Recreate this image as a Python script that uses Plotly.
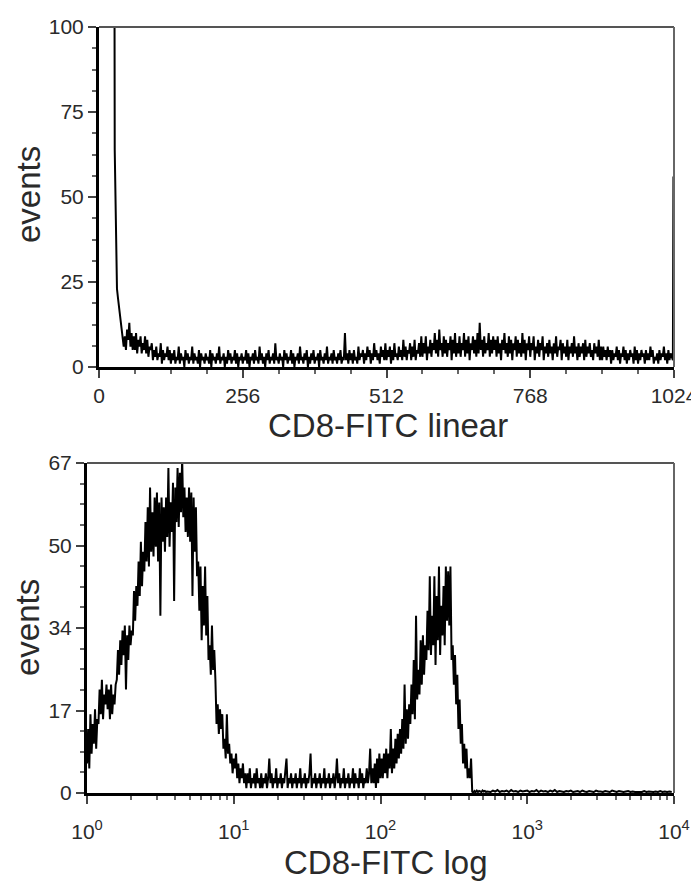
import plotly.graph_objects as go

# ---------------- data ----------------
# Top panel: linear channels 0..1022 (step 2) plus last channel 1023
lin_channels = list(range(0, 1024, 2)) + [1023]
lin_events = [
    300, 300, 300, 300, 300, 300, 300, 300, 300, 300, 300, 300, 300, 300,
    64, 40, 23, 20, 17, 14, 11, 8, 6, 9, 5, 11, 8, 13, 6, 10, 5, 9,
    5, 10, 4, 8, 6, 9, 4, 7, 5, 9, 4, 8, 3, 6, 5, 7, 2, 5, 3, 6, 2, 4, 3, 7, 1, 5, 2, 4, 3, 6, 2, 5,
    1, 4, 2, 5, 1, 3, 2, 6, 1, 4, 2, 3, 0, 5, 2, 4, 1, 3, 2, 6, 1, 4, 2, 3, 1, 5, 0, 4, 2, 3, 1, 4,
    2, 3, 1, 5, 0, 4, 2, 3, 1, 4, 2, 6, 1, 3, 2, 4, 0, 3, 1, 5, 2, 4, 1, 3, 2, 5, 1, 4, 0, 3, 2, 4,
    1, 3, 2, 5, 1, 4, 0, 3, 2, 4, 1, 5, 2, 3, 1, 6, 2, 4, 1, 3, 0, 4, 2, 5, 1, 3, 2, 4, 1, 7, 2, 3,
    1, 4, 2, 3, 0, 5, 2, 4, 1, 3, 2, 5, 1, 4, 0, 3, 2, 4, 1, 6, 2, 3, 1, 4, 2, 5, 0, 3, 1, 4, 2, 5,
    1, 3, 2, 4, 0, 5, 2, 3, 1, 4, 2, 6, 1, 3, 2, 4, 1, 5, 2, 3, 1, 4, 2, 5, 1, 3, 2, 10, 2, 4, 1, 5,
    2, 4, 1, 5, 2, 3, 1, 6, 2, 4, 3, 5, 1, 4, 2, 6, 3, 5, 1, 4, 2, 7, 3, 5, 2, 4, 1, 6, 3, 5, 2, 7,
    2, 5, 3, 6, 1, 5, 2, 7, 3, 4, 2, 6, 3, 5, 2, 8, 3, 6, 2, 5, 4, 7, 2, 6, 3, 8, 2, 5, 4, 7, 3, 9,
    3, 7, 4, 9, 2, 6, 4, 8, 3, 7, 5, 10, 4, 8, 3, 11, 5, 7, 3, 9, 4, 8, 3, 7, 5, 9, 2, 8, 4, 10, 3, 7,
    4, 9, 3, 7, 5, 10, 3, 8, 4, 9, 2, 7, 5, 9, 4, 8, 3, 10, 4, 13, 5, 8, 3, 9, 4, 7, 5, 10, 3, 8, 4, 9,
    5, 8, 3, 9, 4, 7, 2, 8, 5, 10, 4, 7, 3, 9, 4, 8, 2, 7, 5, 9, 3, 8, 4, 7, 3, 10, 4, 8, 2, 7, 5, 9,
    3, 7, 5, 9, 2, 6, 4, 8, 3, 7, 5, 9, 2, 6, 4, 7, 3, 8, 4, 6, 2, 7, 4, 9, 3, 6, 5, 8, 2, 7, 4, 6,
    3, 8, 2, 6, 4, 7, 3, 9, 4, 6, 2, 7, 3, 6, 4, 7, 2, 8, 3, 6, 4, 7, 3, 5, 2, 7, 4, 6, 3, 8, 2, 6,
    2, 6, 3, 5, 2, 6, 3, 5, 1, 5, 2, 4, 3, 6, 2, 5, 1, 4, 3, 6, 2, 5, 1, 4, 2, 5, 3, 4, 1, 6, 2, 5,
    1, 4, 2, 5, 3, 4, 1, 5, 2, 4, 2, 6, 3, 5, 1, 3, 2, 4, 1, 5, 2, 4, 3, 6, 2, 4, 1, 5, 2, 4, 3, 2,
    56,
]
lin_ticks = [0, 256, 512, 768, 1024]
lin_ytick_vals = [0, 25, 50, 75, 100]

# Bottom panel: log channels (1024 channels over 4 decades, 256 per decade)
log_channels = list(range(0, 700, 2)) + list(range(700, 1024, 4))
log_events = [
    6, 13, 5, 16, 8, 14, 10, 17, 9, 15, 14, 21, 16, 23, 15, 20, 18, 22, 17, 21,
    15, 22, 16, 20, 18, 22, 23, 29, 24, 31, 26, 33, 28, 34, 21, 32, 27, 34, 30, 33,
    32, 41, 35, 42, 38, 47, 40, 51, 42, 49, 45, 55, 47, 58, 46, 62, 49, 57, 48, 60,
    50, 61, 47, 59, 36, 60, 51, 58, 49, 60, 52, 66, 50, 59, 53, 63, 39, 62, 55, 66,
    54, 65, 57, 68, 56, 62, 53, 60, 52, 62, 51, 61, 40, 60, 49, 58, 44, 47, 37, 46,
    31, 42, 34, 46, 32, 40, 27, 30, 24, 34, 25, 29, 23, 14, 18, 12, 17, 13, 16, 9,
    11, 7, 16, 8, 10, 6, 8, 4, 7, 5, 8, 3, 6, 2, 5, 3, 6, 2, 4, 1,
    4, 2, 5, 1, 3, 2, 4, 1, 5, 2, 3, 1, 4, 1, 3, 2, 4, 1, 3, 7,
    2, 4, 1, 3, 2, 5, 1, 3, 2, 4, 1, 3, 2, 4, 7, 1, 3, 2, 4, 1,
    3, 2, 4, 1, 3, 2, 5, 1, 3, 2, 4, 1, 3, 2, 4, 8, 1, 3, 2, 4,
    1, 3, 2, 4, 1, 3, 2, 5, 1, 3, 2, 4, 1, 3, 2, 4, 1, 3, 7, 2,
    4, 1, 3, 2, 5, 1, 3, 2, 4, 1, 3, 2, 5, 1, 4, 2, 3, 1, 5, 2,
    4, 1, 3, 2, 5, 2, 4, 9, 2, 5, 2, 6, 1, 7, 2, 8, 3, 7, 3, 8,
    4, 9, 3, 8, 5, 13, 4, 9, 5, 11, 6, 12, 7, 13, 8, 15, 9, 22, 10, 17,
    11, 18, 14, 22, 16, 27, 15, 36, 19, 25, 20, 31, 22, 32, 24, 30, 27, 37, 29, 44,
    28, 36, 30, 44, 26, 40, 31, 46, 28, 38, 32, 42, 30, 46, 35, 45, 34, 46, 27, 30,
    22, 28, 18, 24, 13, 19, 10, 14, 6, 10, 5, 9, 3, 5, 3, 7, 0.3, 0, 0.4, 0.2,
    0.5, 0.2, 0.4, 0.3, 0.2, 0.5, 0.3, 0.4, 0.2, 0.3,
    0.3,
    0.2, 0.5, 0.3, 0.6, 0.2, 0.4, 0.3, 0.5, 0.2, 0.6, 0.3, 0.4, 0.2, 0.5, 0.3, 0.4,
    0.5, 0.2, 0.4, 0.3, 0.6, 0.2, 0.5, 0.3, 0.4, 0.2, 0.5, 0.3, 0.6, 0.2, 0.4, 0.3,
    0.2, 0.4, 0.3, 0.5, 0.2, 0.3, 0.4, 0.2, 0.5, 0.3, 0.2, 0.4, 0.3, 0.2, 0.5, 0.3,
    0.3, 0.2, 0.4, 0.3, 0.2, 0.5, 0.3, 0.2, 0.4, 0.3, 0.2, 0.3, 0.4, 0.2, 0.3, 0.2,
    0.2, 0.3, 0.2, 0.4, 0.2, 0.3, 0.2, 0.2, 0.3, 0.2, 0.4, 0.2, 0.3, 0.2, 0.3, 0.2,
]
assert len(lin_channels) == len(lin_events), (len(lin_channels), len(lin_events))
assert len(log_channels) == len(log_events), (len(log_channels), len(log_events))

log_tick_vals = [1, 10, 100, 1000, 10000]
log_tick_text = ["10<sup>0</sup>", "10<sup>1</sup>", "10<sup>2</sup>", "10<sup>3</sup>", "10<sup>4</sup>"]
log_ytick_vals = [0, 16.75, 33.5, 50.25, 67]
log_ytick_text = ["0", "17", "34", "50", "67"]

x_title_top = "CD8-FITC linear"
x_title_bottom = "CD8-FITC log"
y_title = "events"

# ---------------- figure ----------------
# The page body has an 8px margin, so the figure is sized to fill the
# 699x881 window from (8, 8); positions below are given in window pixels.
OFF = 8
W, H = 699 - OFF, 881 - OFF
FONT = "Liberation Sans, Arial, sans-serif"
TXT = "#2a2a2a"

# channel -> fluorescence value on the log scale (256 channels per decade)
log_x = [10 ** (c / 256) for c in log_channels]

fig = go.Figure()
fig.add_trace(go.Scatter(x=lin_channels, y=lin_events, mode="lines",
                         line=dict(color="black", width=2),
                         xaxis="x", yaxis="y", showlegend=False, hoverinfo="skip"))
fig.add_trace(go.Scatter(x=log_x, y=log_events, mode="lines",
                         line=dict(color="black", width=2),
                         xaxis="x2", yaxis="y2", showlegend=False, hoverinfo="skip"))

def px_x(p):
    return (p - OFF) / W

def px_y(p):
    return (H - (p - OFF)) / H

tickfont = dict(family=FONT, size=21, color=TXT)
common = dict(showgrid=False, zeroline=False, showline=True, linecolor="black",
              linewidth=3, ticks="outside", ticklen=8, tickwidth=1.5,
              tickcolor="#444", tickfont=tickfont, automargin=False)

minor_log = [m * 10 ** d for d in range(4) for m in range(2, 10)]

fig.update_layout(
    width=W, height=H,
    margin=dict(l=0, r=0, t=0, b=0),
    paper_bgcolor="white", plot_bgcolor="white",
    xaxis=dict(domain=[px_x(99), px_x(674)], anchor="y", range=[0, 1024],
               tickmode="array", tickvals=lin_ticks,
               minor=dict(ticks="outside", ticklen=4, dtick=64, tick0=0, tickcolor="#666"),
               **common),
    yaxis=dict(domain=[px_y(367), px_y(27)], anchor="x", range=[0, 100],
               tickmode="array", tickvals=lin_ytick_vals,
               minor=dict(ticks="outside", ticklen=4, dtick=6.25, tick0=0, tickcolor="#666"),
               **common),
    xaxis2=dict(domain=[px_x(87), px_x(674)], anchor="y2", type="log", range=[0, 4],
                tickmode="array", tickvals=log_tick_vals, ticktext=log_tick_text,
                ticklabelstandoff=10,
                minor=dict(ticks="outside", ticklen=4, tickvals=minor_log, tickcolor="#666"),
                **common),
    yaxis2=dict(domain=[px_y(793), px_y(463)], anchor="x2", range=[0, 67],
                tickmode="array", tickvals=log_ytick_vals, ticktext=log_ytick_text,
                minor=dict(ticks="outside", ticklen=4, dtick=67 / 16, tick0=0, tickcolor="#666"),
                **common),
)

shapes = []
for xr, yr in (("x domain", "y domain"), ("x2 domain", "y2 domain")):
    shapes.append(dict(type="line", xref=xr, yref=yr, x0=0, x1=1, y0=1, y1=1,
                       line=dict(color="#555", width=2)))
    shapes.append(dict(type="line", xref=xr, yref=yr, x0=1, x1=1, y0=0, y1=1,
                       line=dict(color="#666", width=2)))
fig.update_layout(shapes=shapes)

title_font = dict(family=FONT, size=33, color=TXT)
fig.update_layout(annotations=[
    dict(text=x_title_top, x=px_x(388), y=px_y(426), xref="paper", yref="paper",
         xanchor="center", yanchor="middle", showarrow=False, font=title_font),
    dict(text=x_title_bottom, x=px_x(386), y=px_y(862), xref="paper", yref="paper",
         xanchor="center", yanchor="middle", showarrow=False, font=title_font),
    dict(text=y_title, x=px_x(28), y=px_y(195), xref="paper", yref="paper",
         xanchor="center", yanchor="middle", showarrow=False, textangle=-90, font=title_font),
    dict(text=y_title, x=px_x(28), y=px_y(628), xref="paper", yref="paper",
         xanchor="center", yanchor="middle", showarrow=False, textangle=-90, font=title_font),
])

fig.write_html("out.html")
